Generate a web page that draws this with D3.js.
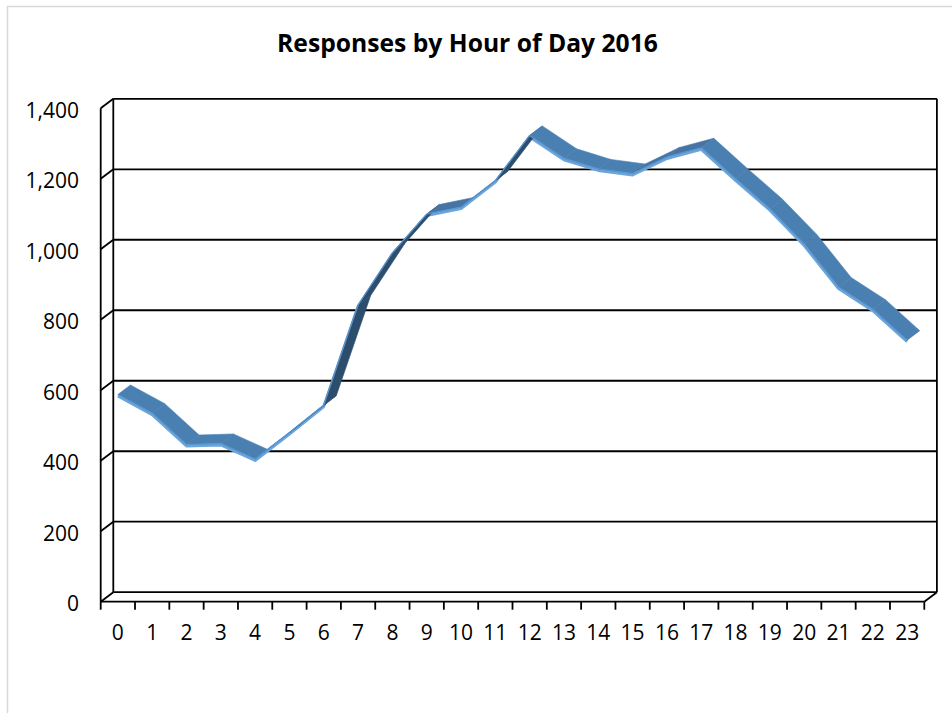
<!DOCTYPE html>
<html><head><meta charset="utf-8">
<script src="https://cdnjs.cloudflare.com/ajax/libs/d3/7.8.5/d3.min.js"></script>
<style>html,body{margin:0;padding:0;background:#fff;}svg{display:block;}</style>
</head><body>
<svg id="chart" width="952" height="713"></svg>
<script>
const title = "Responses by Hour of Day 2016";
const hours = ["0","1","2","3","4","5","6","7","8","9","10","11","12","13","14","15","16","17","18","19","20","21","22","23"];
const responses = [588, 535, 446, 449, 405, 480, 558, 842, 990, 1100, 1120, 1195, 1323, 1258, 1228, 1215, 1262, 1288, 1200, 1115, 1015, 893, 830, 742];
const yTicks = [0, 200, 400, 600, 800, 1000, 1200, 1400];

const svg = d3.select("#chart");
const FONT = "'Open Sans', 'Noto Sans', sans-serif";
const depth = {dx: 12.6, dy: -9.5};

const x = d3.scaleBand().domain(hours).range([100.7, 924.3]).padding(0);
const y = d3.scaleLinear().domain([0, 1400]).range([601.7, 108.3]);
const xc = h => x(h) + x.bandwidth() / 2;

// outer frame
svg.append("path").attr("d", "M7.5,720 V6.5 H960").attr("fill", "none").attr("stroke", "#d9d9d9").attr("stroke-width", 1.5);

// title, sized to match the reference width
const tt = svg.append("text").attr("x", 467.5).attr("y", 52).attr("text-anchor", "middle")
  .attr("font-family", FONT).attr("font-weight", "bold").attr("font-size", 22).attr("fill", "#000").text(title);
const tw = tt.node().getComputedTextLength();
if (tw > 0) tt.attr("font-size", Math.min(26, 22 * 381 / tw));

const g = svg.append("g");
const line = (x1, y1, x2, y2) => g.append("line").attr("x1", x1).attr("y1", y1).attr("x2", x2).attr("y2", y2)
  .attr("stroke", "#000").attr("stroke-width", 1.8);

const left = x.range()[0], right = x.range()[1];
yTicks.forEach(t => {
  line(left + depth.dx, y(t) + depth.dy, right + depth.dx, y(t) + depth.dy);
  line(left, y(t), left + depth.dx, y(t) + depth.dy);
});
line(left + depth.dx, y(1400) + depth.dy, left + depth.dx, y(0) + depth.dy);
line(right + depth.dx, y(1400) + depth.dy, right + depth.dx, y(0) + depth.dy);
line(left, y(1400), left, y(0));
line(left, y(0), right, y(0));
line(right, y(0), right + depth.dx, y(0) + depth.dy);
d3.range(hours.length + 1).forEach(i => {
  const xx = left + i * x.bandwidth();
  line(xx, y(0), xx, y(0) + 8);
});

svg.append("g").selectAll("text").data(yTicks).join("text")
  .attr("x", 79).attr("y", d => y(d) + 2).attr("dy", "0.35em").attr("text-anchor", "end")
  .attr("font-family", FONT).attr("font-size", 21).attr("fill", "#000")
  .text(d => d3.format(",")(d));
svg.append("g").selectAll("text").data(hours).join("text")
  .attr("x", d => xc(d)).attr("y", 640).attr("text-anchor", "middle")
  .attr("font-family", FONT).attr("font-size", 21).attr("fill", "#000")
  .text(d => d);

const pts = hours.map((h, i) => ({fx: xc(h), fy: y(responses[i])}));
const rib = svg.append("g");
rib.append("path")
  .attr("d", d3.line().x(p => p.fx).y(p => p.fy + 1.5)(pts))
  .attr("fill", "none").attr("stroke", "#6aa5db").attr("stroke-width", 3).attr("stroke-linejoin", "round");
for (let i = 0; i < pts.length - 1; i++) {
  const a = pts[i], b = pts[i + 1];
  const sx = b.fx - a.fx, sy = b.fy - a.fy;
  const cross = sx * depth.dy - sy * depth.dx;
  let fill;
  if (cross < 0) {
    const slope = -sy / sx;
    fill = slope > 0.2 ? "#4674a5" : "#4a7fb1";
  } else {
    fill = "#2d4d6d";
  }
  const poly = [[a.fx, a.fy], [b.fx, b.fy], [b.fx + depth.dx, b.fy + depth.dy], [a.fx + depth.dx, a.fy + depth.dy]];
  rib.append("path").attr("d", "M" + poly.join("L") + "Z").attr("fill", fill)
    .attr("stroke", fill).attr("stroke-width", 0.6).attr("stroke-linejoin", "round");
}
rib.append("path")
  .attr("d", d3.line().x(p => p.fx).y(p => p.fy)(pts))
  .attr("fill", "none").attr("stroke", "#5c97cf").attr("stroke-width", 1.2).attr("stroke-linejoin", "round");
</script>
</body></html>
